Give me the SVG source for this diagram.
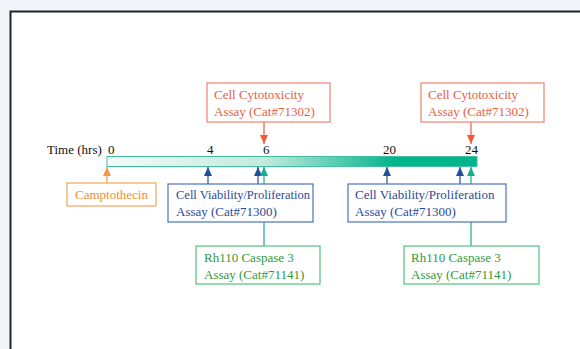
<svg xmlns="http://www.w3.org/2000/svg" width="580" height="349" viewBox="0 0 580 349">
<defs>
<linearGradient id="tl" x1="107" y1="0" x2="477" y2="0" gradientUnits="userSpaceOnUse">
<stop offset="0" stop-color="#f4fbf9"/>
<stop offset="0.43" stop-color="#c2e9dc"/>
<stop offset="0.78" stop-color="#00b48c"/>
<stop offset="1" stop-color="#00b48c"/>
</linearGradient>
<marker id="aO" viewBox="0 0 9 8" refX="9" refY="4" markerWidth="9" markerHeight="8" markerUnits="userSpaceOnUse" orient="auto"><path d="M0,0 L9,4 L0,8 Z" fill="#ec5b3b"/></marker>
<marker id="aY" viewBox="0 0 9 8" refX="9" refY="4" markerWidth="9" markerHeight="8" markerUnits="userSpaceOnUse" orient="auto"><path d="M0,0 L9,4 L0,8 Z" fill="#f29a48"/></marker>
<marker id="aB" viewBox="0 0 9 8" refX="9" refY="4" markerWidth="9" markerHeight="8" markerUnits="userSpaceOnUse" orient="auto"><path d="M0,0 L9,4 L0,8 Z" fill="#1f4f9e"/></marker>
<marker id="aG" viewBox="0 0 9 8" refX="9" refY="4" markerWidth="9" markerHeight="8" markerUnits="userSpaceOnUse" orient="auto"><path d="M0,0 L9,4 L0,8 Z" fill="#17ad8c"/></marker>
</defs>
<style>
text{font-family:"Liberation Serif","Times New Roman",serif;font-size:13px}
.t{fill:#111}
.bo{fill:#fff;stroke:#f0806c;stroke-width:1.2}
.to{fill:#e8603f}
.by{fill:#fff;stroke:#f5a45a;stroke-width:1.2}
.ty{fill:#f08d32}
.bb{fill:#fff;stroke:#4a72c2;stroke-width:1.2}
.tb{fill:#2a4a9a}
.bg{fill:#fff;stroke:#52c27a;stroke-width:1.2}
.tg{fill:#2f9a3a}
.lo{stroke:#ec5b3b;stroke-width:1.2;fill:none}
.ly{stroke:#f29a48;stroke-width:1.2;fill:none}
.lb{stroke:#1f4f9e;stroke-width:1.2;fill:none}
.lg{stroke:#17ad8c;stroke-width:1.2;fill:none}
</style>
<rect x="0" y="0" width="580" height="349" fill="#f3f4f9"/>
<rect x="10.5" y="11.5" width="580" height="350" fill="#fff" stroke="#222" stroke-width="2"/>
<g id="timeline">
<rect x="107" y="156.5" width="370" height="10" fill="url(#tl)" stroke="#3fbf9f" stroke-width="1"/>
<text class="t" x="47" y="154">Time (hrs)</text>
<text class="t" x="108" y="154">0</text>
<text class="t" x="207" y="154">4</text>
<text class="t" x="263" y="154">6</text>
<text class="t" x="383" y="154">20</text>
<text class="t" x="465" y="154">24</text>
</g>
<g id="connectors">
<line class="lo" x1="264" y1="122" x2="264" y2="144" marker-end="url(#aO)"/>
<line class="lo" x1="471" y1="122" x2="471" y2="144" marker-end="url(#aO)"/>
<line class="ly" x1="107" y1="183" x2="107" y2="167" marker-end="url(#aY)"/>
<line class="lb" x1="208" y1="184" x2="208" y2="167" marker-end="url(#aB)"/>
<line class="lb" x1="258" y1="184" x2="258" y2="167" marker-end="url(#aB)"/>
<line class="lb" x1="387" y1="184" x2="387" y2="167" marker-end="url(#aB)"/>
<line class="lb" x1="460" y1="184" x2="460" y2="167" marker-end="url(#aB)"/>
<line class="lg" x1="264" y1="246" x2="264" y2="167" marker-end="url(#aG)"/>
<line class="lg" x1="471" y1="246" x2="471" y2="167" marker-end="url(#aG)"/>
</g>
<g id="cyto1">
<rect class="bo" x="207" y="83" width="123" height="39"/>
<text class="to" x="214" y="99">Cell Cytotoxicity</text>
<text class="to" x="214" y="116">Assay (Cat#71302)</text>
</g>
<g id="cyto2">
<rect class="bo" x="421" y="83" width="123" height="39"/>
<text class="to" x="428" y="99">Cell Cytotoxicity</text>
<text class="to" x="428" y="116">Assay (Cat#71302)</text>
</g>
<g id="campto">
<rect class="by" x="67" y="183" width="89" height="23"/>
<text class="ty" x="75" y="199">Camptothecin</text>
</g>
<g id="via1">
<rect class="bb" x="168" y="184" width="145" height="38"/>
<text class="tb" x="176" y="199" textLength="134" lengthAdjust="spacingAndGlyphs">Cell Viability/Proliferation</text>
<text class="tb" x="176" y="216">Assay (Cat#71300)</text>
</g>
<g id="via2">
<rect class="bb" x="348" y="184" width="158" height="38"/>
<text class="tb" x="355" y="199">Cell Viability/Proliferation</text>
<text class="tb" x="355" y="216">Assay (Cat#71300)</text>
</g>
<g id="rh1">
<rect class="bg" x="196" y="246" width="124" height="38"/>
<text class="tg" x="204" y="262">Rh110 Caspase 3</text>
<text class="tg" x="204" y="279">Assay (Cat#71141)</text>
</g>
<g id="rh2">
<rect class="bg" x="404" y="246" width="135" height="38"/>
<text class="tg" x="411" y="262">Rh110 Caspase 3</text>
<text class="tg" x="411" y="279">Assay (Cat#71141)</text>
</g>
</svg>
